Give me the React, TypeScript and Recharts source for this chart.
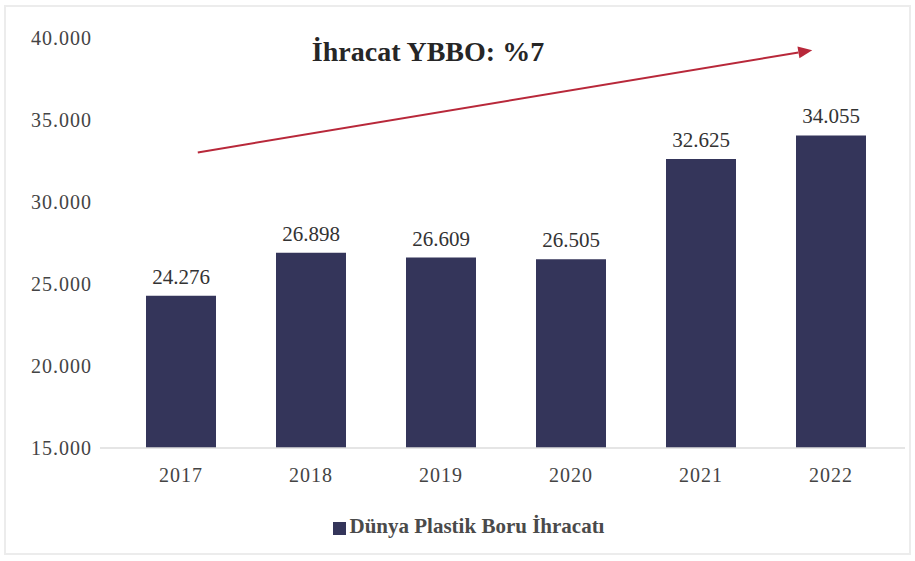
import React from "react"
import {
  BarChart,
  Bar,
  XAxis,
  YAxis,
  Legend,
  LabelList,
  ReferenceLine,
} from "recharts"

const years = ["2017", "2018", "2019", "2020", "2021", "2022"]
const exports = [24276, 26898, 26609, 26505, 32625, 34055]
const yTicks = [15000, 20000, 25000, 30000, 35000, 40000]
const seriesName = "Dünya Plastik Boru İhracatı"
const trendTitle = "İhracat YBBO: %7"
const trendStart = 32850
const trendEnd = 39450

const data = years.map((year, i) => ({ year, value: exports[i] }))

const fmt = (v: number) => v.toLocaleString("de-DE")

const serif = "Liberation Serif"
const barColor = "#34355a"
const arrowColor = "#b8283a"

const TrendArrow = (props: any) => {
  const { x1, y1, x2, y2 } = props
  const dx = x2 - x1
  const dy = y2 - y1
  const len = Math.sqrt(dx * dx + dy * dy)
  const ux = dx / len
  const uy = dy / len
  // pull both ends in from the bar centres
  const sx = x1 + ux * 17
  const sy = y1 + uy * 17
  const ex = x2 - ux * 19
  const ey = y2 - uy * 19
  const head = 14
  const half = 6
  const bx = ex - ux * head
  const by = ey - uy * head
  const pts = `${ex},${ey} ${bx - uy * half},${by + ux * half} ${bx + uy * half},${by - ux * half}`
  return (
    <g>
      <line x1={sx} y1={sy} x2={bx} y2={by} stroke={arrowColor} strokeWidth={2} />
      <polygon points={pts} fill={arrowColor} />
    </g>
  )
}

export default function App() {
  return (
    <div
      style={{
        position: "absolute",
        left: 0,
        top: 0,
        width: 915,
        height: 561,
        background: "#fff",
        fontFamily: serif,
      }}
    >
      <div
        style={{
          position: "absolute",
          left: 4,
          top: 5,
          width: 903,
          height: 546,
          border: "2px solid #ececec",
        }}
      />
      <BarChart
        width={915}
        height={561}
        data={data}
        margin={{ top: 38, right: 10, left: 10, bottom: 22 }}
        barCategoryGap={30}
        style={{ fontFamily: serif }}
      >
        <XAxis
          dataKey="year"
          height={66}
          padding={{ left: 16, right: 9 }}
          tickLine={false}
          axisLine={{ stroke: "#dcdcdc", strokeWidth: 1.5 }}
          tick={{ fill: "#444", fontSize: 20, fontFamily: serif, letterSpacing: 1 }}
          tickMargin={14}
        />
        <YAxis
          width={90}
          domain={[15000, 40000]}
          ticks={yTicks}
          tickFormatter={fmt}
          axisLine={false}
          tickLine={false}
          tick={{ fill: "#444", fontSize: 20, fontFamily: serif, letterSpacing: 1 }}
        />
        <ReferenceLine
          segment={[
            { x: years[0], y: trendStart },
            { x: years[years.length - 1], y: trendEnd },
          ]}
          shape={TrendArrow}
          ifOverflow="visible"
        />
        <Legend
          verticalAlign="bottom"
          iconType="square"
          iconSize={13}
          wrapperStyle={{ fontFamily: serif, fontSize: 21, fontWeight: 600, paddingLeft: 16 }}
          formatter={(v: string) => (
            <span style={{ color: "#4a4a4a", fontFamily: serif }}>{v}</span>
          )}
        />
        <Bar dataKey="value" name={seriesName} fill={barColor} isAnimationActive={false}>
          <LabelList
            dataKey="value"
            position="top"
            offset={12}
            formatter={(v: any) => fmt(Number(v))}
            fontFamily={serif}
            fontSize={21}
            fill="#333"
            style={{ fontFamily: serif }}
          />
        </Bar>
      </BarChart>
      <div
        style={{
          position: "absolute",
          left: 0,
          width: 856,
          top: 36,
          textAlign: "center",
          fontSize: 28,
          fontWeight: 700,
          color: "#262626",
          fontFamily: serif,
        }}
      >
        {trendTitle}
      </div>
    </div>
  )
}
